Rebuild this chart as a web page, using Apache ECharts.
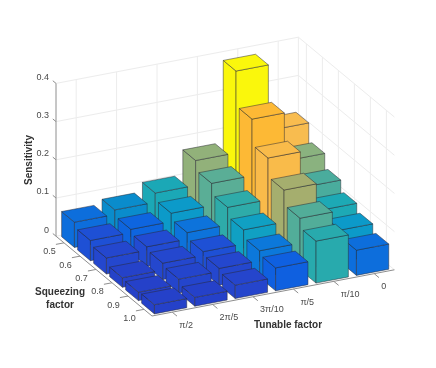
<!DOCTYPE html>
<html>
<head>
<meta charset="utf-8">
<style>html,body{margin:0;padding:0;background:#fff}#c{width:436px;height:368px}</style>
<script src="https://cdn.jsdelivr.net/npm/echarts@6/dist/echarts.min.js"></script>
</head>
<body>
<div id="c"></div>
<script>
// Data
var tunableLabels = ['0', 'π/10', 'π/5', '3π/10', '2π/5', 'π/2'];
var squeezingLabels = ['0.5', '0.6', '0.7', '0.8', '0.9', '1.0'];
var sensitivityTicks = [0, 0.1, 0.2, 0.3, 0.4];
var sensitivityAt05 = [0.209, 0.381, 0.167, 0.102, 0.078, 0.066];
var sensitivityAt06 = [0.164, 0.290, 0.142, 0.084, 0.062, 0.053];
var sensitivityAt07 = [0.129, 0.223, 0.114, 0.068, 0.051, 0.042];
var sensitivityAt08 = [0.103, 0.174, 0.090, 0.053, 0.043, 0.025];
var sensitivityAt09 = [0.084, 0.135, 0.070, 0.044, 0.036, 0.022];
var sensitivityAt10 = [0.066, 0.110, 0.060, 0.035, 0.023, 0.024];
var rows = [sensitivityAt05, sensitivityAt06, sensitivityAt07, sensitivityAt08, sensitivityAt09, sensitivityAt10];

// Colour scale: value -> colour
var colorValues = [0.02, 0.05, 0.06, 0.07, 0.078, 0.085, 0.10, 0.115, 0.13, 0.145, 0.165, 0.175, 0.205, 0.29, 0.385];
var colorStops = ['#2540c8', '#2449d0', '#0f60e0', '#0c78da', '#0a8ccc', '#0c9cc8', '#18a8b8', '#30aba8', '#4cac9c', '#5eae94', '#8cb27e', '#a8ae6c', '#f8bc50', '#fdb935', '#fafa0a'];

function hex(c) { return [parseInt(c.substr(1, 2), 16), parseInt(c.substr(3, 2), 16), parseInt(c.substr(5, 2), 16)]; }
function colorOf(v) {
  if (v <= colorValues[0]) return colorStops[0];
  for (var i = 1; i < colorValues.length; i++) {
    if (v <= colorValues[i]) {
      var f = (v - colorValues[i - 1]) / (colorValues[i] - colorValues[i - 1]);
      var a = hex(colorStops[i - 1]), b = hex(colorStops[i]);
      return 'rgb(' + [0, 1, 2].map(function (k) { return Math.round(a[k] + (b[k] - a[k]) * f); }).join(',') + ')';
    }
  }
  return colorStops[colorStops.length - 1];
}

// 3D -> plane projection (orthographic)
var view = { fx: 152, fy: 316, tx: 40.4, ty: -7.7, sx: 16, sy: 13.3, z: 382 };
var T_MAX = 5.5, T_MIN = -0.5, S_MAX = 5.5, S_MIN = -0.5, Z_TOP = 0.4, HALF = 0.4;
function project(t, s, z) {
  return [
    view.fx + (T_MAX - t) * view.tx - (S_MAX - s) * view.sx,
    view.fy + (T_MAX - t) * view.ty - (S_MAX - s) * view.sy - z * view.z
  ];
}

var barData = [];
rows.forEach(function (row, s) { row.forEach(function (v, t) { barData.push([t, s, v]); }); });
barData.sort(function (a, b) { return (a[0] + a[1]) - (b[0] + b[1]); });

var EDGE = 'rgba(40,40,50,0.55)';
function renderBar(params, api) {
  var t = api.value(0), s = api.value(1), v = api.value(2);
  var c = function (tt, ss, zz) { return api.coord(project(tt, ss, zz)); };
  var t0 = t - HALF, t1 = t + HALF, s0 = s - HALF, s1 = s + HALF;
  var fill = colorOf(v);
  var st = { fill: fill, stroke: EDGE, lineWidth: 0.9, lineJoin: 'round' };
  return {
    type: 'group',
    children: [
      { type: 'polygon', shape: { points: [c(t1, s0, 0), c(t1, s1, 0), c(t1, s1, v), c(t1, s0, v)] }, style: st },
      { type: 'polygon', shape: { points: [c(t1, s1, 0), c(t0, s1, 0), c(t0, s1, v), c(t1, s1, v)] }, style: st },
      { type: 'polygon', shape: { points: [c(t1, s1, v), c(t0, s1, v), c(t0, s0, v), c(t1, s0, v)] }, style: st }
    ]
  };
}

function line(a, b, color) {
  return { type: 'line', shape: { x1: a[0], y1: a[1], x2: b[0], y2: b[1] }, style: { stroke: color, lineWidth: 1 } };
}
function label(text, x, y, align, opts) {
  opts = opts || {};
  return {
    type: 'text', x: x, y: y, rotation: opts.rot || 0,
    style: {
      text: text, x: 0, y: 0, align: align, verticalAlign: 'middle',
      fontFamily: '"Liberation Sans", Arial, sans-serif',
      fontSize: opts.size || 9, fontWeight: opts.bold ? 'bold' : 'normal',
      fill: opts.color || '#4a4a4a', lineHeight: 13
    }
  };
}

function renderWalls(params, api) {
  var c = function (tt, ss, zz) { return api.coord(project(tt, ss, zz)); };
  var kids = [], col = '#ececec';
  sensitivityTicks.forEach(function (z) {
    kids.push(line(c(T_MAX, S_MIN, z), c(T_MIN, S_MIN, z), col));
    kids.push(line(c(T_MIN, S_MIN, z), c(T_MIN, S_MAX, z), col));
  });
  kids.push(line(c(T_MIN, S_MIN, 0), c(T_MIN, S_MIN, Z_TOP), col));
  tunableLabels.forEach(function (_, t) {
    kids.push(line(c(t, S_MIN, 0), c(t, S_MIN, Z_TOP), col));
  });
  squeezingLabels.forEach(function (_, s) {
    kids.push(line(c(T_MIN, s, 0), c(T_MIN, s, Z_TOP), col));
  });
  return { type: 'group', children: kids };
}

function renderAxes(params, api) {
  var c = function (tt, ss, zz) { return api.coord(project(tt, ss, zz)); };
  var kids = [], col = '#8e8e8e';
  kids.push(line(c(T_MAX, S_MIN, 0), c(T_MAX, S_MIN, Z_TOP), col));
  kids.push(line(c(T_MAX, S_MIN, 0), c(T_MAX, S_MAX, 0), col));
  kids.push(line(c(T_MAX, S_MAX, 0), c(T_MIN, S_MAX, 0), col));
  sensitivityTicks.forEach(function (z) {
    var p = c(T_MAX, S_MIN, z);
    kids.push(line(p, c(T_MAX, S_MIN - 0.2, z), col));
    kids.push(label(z === 0 ? '0' : z.toFixed(1), p[0] - 7, p[1] - 6, 'right'));
  });
  squeezingLabels.forEach(function (txt, s) {
    var p = c(T_MAX, s, 0);
    kids.push(line(p, c(T_MAX + 0.2, s, 0), col));
    kids.push(label(txt, p[0] - 14.5, p[1] + 9, 'center'));
  });
  tunableLabels.forEach(function (txt, t) {
    var p = c(t, S_MAX, 0);
    kids.push(line(p, c(t, S_MAX + 0.3, 0), col));
    kids.push(label(txt, p[0] + 7, p[1] + 13, 'left'));
  });
  var bold = { bold: true, size: 10, color: '#333333' };
  kids.push(label('Sensitivity', 29, 160, 'center', { bold: true, size: 10, color: '#333333', rot: Math.PI / 2 }));
  kids.push(label('Squeezing', 60, 292, 'center', bold));
  kids.push(label('factor', 60, 305, 'center', bold));
  kids.push(label('Tunable factor', 288, 325, 'center', bold));
  return { type: 'group', children: kids };
}

var chart = echarts.init(document.getElementById('c'), null, { renderer: 'canvas', width: 436, height: 368 });
chart.setOption({
  animation: false,
  backgroundColor: '#ffffff',
  grid: { left: 0, right: 0, top: 0, bottom: 0 },
  xAxis: { type: 'value', min: 0, max: 436, show: false },
  yAxis: { type: 'value', min: 0, max: 368, inverse: true, show: false },
  series: [
    { type: 'custom', coordinateSystem: 'cartesian2d', silent: true, clip: false, z: 1, data: [[0, 0]], renderItem: renderWalls, encode: { x: 0, y: 1 } },
    { type: 'custom', coordinateSystem: 'cartesian2d', silent: true, clip: false, z: 3, data: [[0, 0]], renderItem: renderAxes, encode: { x: 0, y: 1 } },
    { type: 'custom', coordinateSystem: 'cartesian2d', silent: true, clip: false, z: 2, data: barData, renderItem: renderBar, encode: { x: 0, y: 1 } }
  ]
});
</script>
</body>
</html>
